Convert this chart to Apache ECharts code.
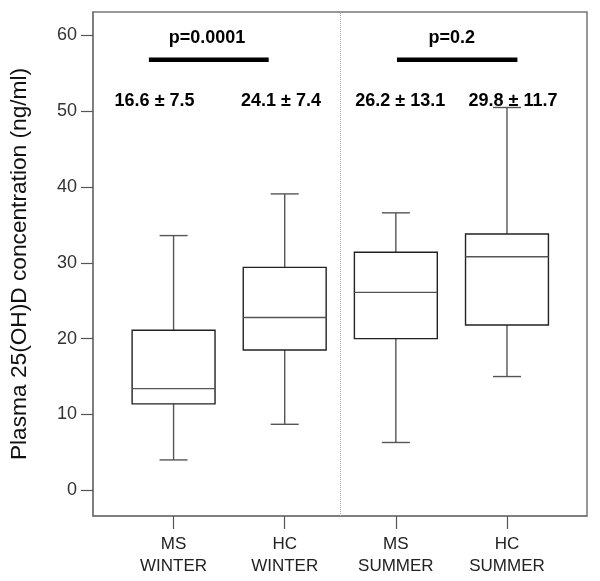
<!DOCTYPE html>
<html>
<head>
<meta charset="utf-8">
<script src="https://cdn.jsdelivr.net/npm/echarts@6/dist/echarts.min.js"></script>
<style>html,body{margin:0;padding:0;background:#fff}#c{width:600px;height:581px}</style>
</head>
<body>
<div id="c"></div>
<script>
// ---- data ----
var categories = ['MS\nWINTER', 'HC\nWINTER', 'MS\nSUMMER', 'HC\nSUMMER'];
var whiskerLow  = [4.0, 8.7, 6.3, 15.0];
var q1          = [11.4, 18.5, 20.0, 21.8];
var median      = [13.4, 22.8, 26.1, 30.8];
var q3          = [21.1, 29.4, 31.4, 33.8];
var whiskerHigh = [33.6, 39.1, 36.6, 50.5];
var meanLabels  = ['16.6 \u00b1 7.5', '24.1 \u00b1 7.4', '26.2 \u00b1 13.1', '29.8 \u00b1 11.7'];
var pLabels     = ['p=0.0001', 'p=0.2'];
var yTicks      = [0, 10, 20, 30, 40, 50, 60];
var yTitle      = 'Plasma 25(OH)D concentration (ng/ml)';

// ---- build ----
var xPos = categories.map(function (c, i) { return i + 1; });
var boxData = categories.map(function (c, i) {
  return [xPos[i], whiskerLow[i], q1[i], median[i], q3[i], whiskerHigh[i]];
});

var BOX_HALF = 0.373, CAP_HALF = 0.126;

function renderBox(params, api) {
  var x = api.value(0);
  var lo = api.coord([x, api.value(1)]);
  var a = api.coord([x - BOX_HALF, api.value(2)]);
  var m1 = api.coord([x - BOX_HALF, api.value(3)]);
  var m2 = api.coord([x + BOX_HALF, api.value(3)]);
  var b = api.coord([x + BOX_HALF, api.value(4)]);
  var hi = api.coord([x, api.value(5)]);
  var capL = api.coord([x - CAP_HALF, 0])[0];
  var capR = api.coord([x + CAP_HALF, 0])[0];
  var stG = { stroke: '#555', lineWidth: 1.4 };
  return {
    type: 'group',
    children: [
      { type: 'line', shape: { x1: lo[0], y1: lo[1], x2: lo[0], y2: a[1] }, style: stG },
      { type: 'line', shape: { x1: hi[0], y1: hi[1], x2: hi[0], y2: b[1] }, style: stG },
      { type: 'line', shape: { x1: capL, y1: lo[1], x2: capR, y2: lo[1] }, style: stG },
      { type: 'line', shape: { x1: capL, y1: hi[1], x2: capR, y2: hi[1] }, style: stG },
      { type: 'rect', shape: { x: a[0], y: b[1], width: b[0] - a[0], height: a[1] - b[1] }, style: { stroke: '#222', lineWidth: 1.4, fill: 'none' } },
      { type: 'line', shape: { x1: m1[0], y1: m1[1], x2: m2[0], y2: m2[1] }, style: stG }
    ]
  };
}

// comparison bars (between pairs of groups) and annotation positions (layout)
var pairs = [[0, 1], [2, 3]];
var barSpan = [[-0.222, -0.144], [0.01, 0.094]]; // offsets from the left / right group centre
var pBarY = 56.8, pTextY = 59.7, meanTextY = 51.3;
var pTextOff = [0.30, 0.504];
var meanOff = [-0.171, -0.034, 0.04, 0.054];

var pBarData = pairs.map(function (p, k) {
  return [xPos[p[0]] + barSpan[k][0], xPos[p[1]] + barSpan[k][1], pBarY, pLabels[k], xPos[p[0]] + pTextOff[k], pTextY];
});
var meanData = categories.map(function (c, i) { return [xPos[i] + meanOff[i], meanTextY, meanLabels[i]]; });

var txtFont = 'bold 18px "Liberation Sans", Arial, sans-serif';

var chart = echarts.init(document.getElementById('c'), null, { renderer: 'canvas' });
chart.setOption({
  animation: false,
  backgroundColor: '#fff',
  grid: { left: 92, right: 13, top: 12, bottom: 65, show: true, borderColor: '#777', borderWidth: 1.5, backgroundColor: 'transparent' },
  xAxis: {
    type: 'value', min: 0.275, max: 4.72,
    splitLine: { show: false },
    axisLine: { show: true, onZero: false, lineStyle: { color: '#777', width: 1.5 } },
    axisTick: { show: true, length: 13, customValues: xPos, lineStyle: { color: '#555', width: 1.2 } },
    axisLabel: {
      customValues: xPos, margin: 17, color: '#222', lineHeight: 22,
      fontFamily: '"Liberation Sans", Arial, sans-serif', fontSize: 17,
      formatter: function (v) { return categories[Math.round(v) - 1] || ''; }
    }
  },
  yAxis: {
    type: 'value', min: -3.4, max: 63.1,
    name: yTitle, nameLocation: 'middle', nameRotate: 90, nameGap: 62,
    nameTextStyle: { fontFamily: '"Liberation Sans", Arial, sans-serif', fontSize: 22.7, color: '#111' },
    splitLine: { show: false },
    axisLine: { show: true, onZero: false, lineStyle: { color: '#777', width: 1.5 } },
    axisTick: { show: true, length: 12, customValues: yTicks, lineStyle: { color: '#555', width: 1.2 } },
    axisLabel: {
      customValues: yTicks, margin: 16, color: '#333',
      fontFamily: '"Liberation Sans", Arial, sans-serif', fontSize: 18
    }
  },
  series: [
    {
      type: 'custom', name: 'box', data: boxData, renderItem: renderBox,
      encode: { x: 0, y: [1, 2, 3, 4, 5] }, z: 3,
      markLine: {
        silent: true, symbol: 'none', label: { show: false },
        lineStyle: { color: '#aaa', type: [1, 1], width: 1 },
        data: [{ xAxis: (xPos[1] + xPos[2]) / 2 }]
      }
    },
    {
      type: 'custom', name: 'pbars', data: pBarData, z: 4,
      encode: { x: [0, 1, 4], y: [2, 5] },
      renderItem: function (params, api) {
        var s = api.coord([api.value(0), api.value(2)]);
        var e = api.coord([api.value(1), api.value(2)]);
        var t = api.coord([api.value(4), api.value(5)]);
        return {
          type: 'group', children: [
            { type: 'line', shape: { x1: s[0], y1: s[1], x2: e[0], y2: e[1] }, style: { stroke: '#000', lineWidth: 4.5 } },
            { type: 'text', x: t[0], y: t[1], style: { text: pLabels[params.dataIndex], font: txtFont, fill: '#000', align: 'center', verticalAlign: 'middle' } }
          ]
        };
      }
    },
    {
      type: 'custom', name: 'means', data: meanData, z: 4,
      encode: { x: 0, y: 1 },
      renderItem: function (params, api) {
        var t = api.coord([api.value(0), api.value(1)]);
        return { type: 'text', x: t[0], y: t[1], style: { text: meanLabels[params.dataIndex], font: txtFont, fill: '#000', align: 'center', verticalAlign: 'middle' } };
      }
    }
  ]
});
</script>
</body>
</html>
